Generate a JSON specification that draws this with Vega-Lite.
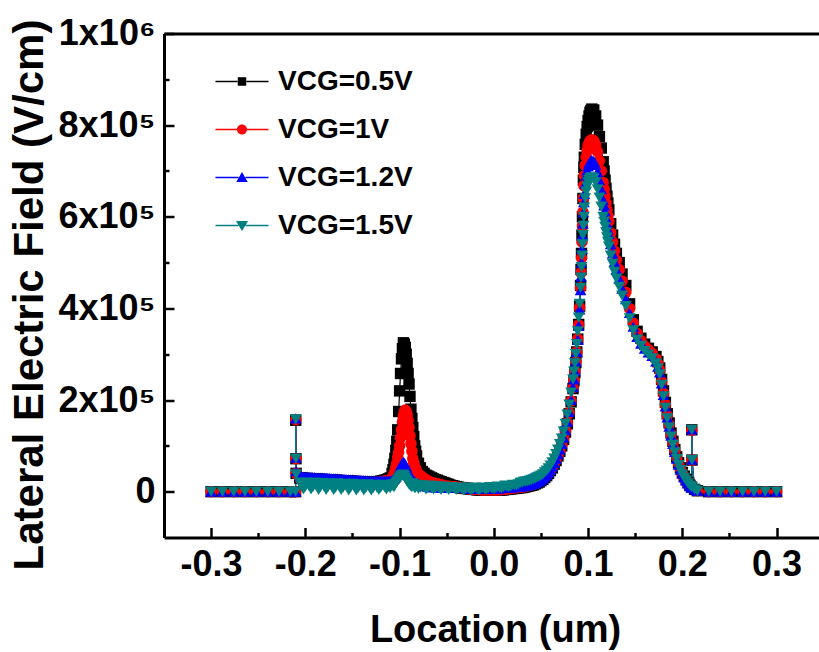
{
  "$schema": "https://vega.github.io/schema/vega-lite/v6.json",
  "width": 655,
  "height": 504,
  "autosize": "none",
  "padding": {"left": 164, "top": 33.5, "right": 0, "bottom": 114.5},
  "background": "white",
  "config": {
    "view": {"stroke": null},
    "font": "Liberation Sans",
    "axis": {"labelFont": "Liberation Sans", "titleFont": "Liberation Sans", "labelColor": "#000", "titleColor": "#000", "tickColor": "#000", "domainColor": "#000", "grid": false}
  },
  "data": {
    "values": [
      {"x": -0.300, "a": 0, "b": 0, "c": 0, "d": 0},
      {"x": -0.288, "a": 0, "b": 0, "c": 0, "d": 0},
      {"x": -0.276, "a": 0, "b": 0, "c": 0, "d": 0},
      {"x": -0.264, "a": 0, "b": 0, "c": 0, "d": 0},
      {"x": -0.252, "a": 0, "b": 0, "c": 0, "d": 0},
      {"x": -0.240, "a": 0, "b": 0, "c": 0, "d": 0},
      {"x": -0.228, "a": 0, "b": 0, "c": 0, "d": 0},
      {"x": -0.216, "a": 0, "b": 0, "c": 0, "d": 0},
      {"x": -0.2104, "a": 0, "b": 0, "c": 0, "d": 0},
      {"x": -0.2102, "a": 156000, "b": 157000, "c": 160000, "d": 158000},
      {"x": -0.2100, "a": 72000, "b": 72000, "c": 74000, "d": 72000},
      {"x": -0.2098, "a": 40000, "b": 40000, "c": 45000, "d": 38000},
      {"x": -0.206, "a": 30000, "b": 29000, "c": 34000, "d": 20000},
      {"x": -0.204, "a": 30000, "b": 29000, "c": 34000, "d": 12000},
      {"x": -0.202, "a": 29000, "b": 28000, "c": 33000, "d": 5000},
      {"x": -0.200, "a": 29000, "b": 28000, "c": 33000, "d": 11000},
      {"x": -0.198, "a": 29000, "b": 28000, "c": 33000, "d": 20000},
      {"x": -0.196, "a": 28000, "b": 27000, "c": 32000, "d": 12000},
      {"x": -0.194, "a": 28000, "b": 27000, "c": 32000, "d": 5000},
      {"x": -0.192, "a": 28000, "b": 27000, "c": 32000, "d": 10000},
      {"x": -0.190, "a": 28000, "b": 27000, "c": 32000, "d": 19000},
      {"x": -0.188, "a": 27000, "b": 26000, "c": 31000, "d": 12000},
      {"x": -0.186, "a": 27000, "b": 26000, "c": 31000, "d": 4000},
      {"x": -0.184, "a": 27000, "b": 26000, "c": 31000, "d": 10000},
      {"x": -0.182, "a": 27000, "b": 26000, "c": 31000, "d": 19000},
      {"x": -0.180, "a": 26000, "b": 25000, "c": 30000, "d": 11000},
      {"x": -0.178, "a": 26000, "b": 25000, "c": 30000, "d": 4000},
      {"x": -0.176, "a": 26000, "b": 25000, "c": 30000, "d": 10000},
      {"x": -0.174, "a": 26000, "b": 25000, "c": 30000, "d": 18000},
      {"x": -0.172, "a": 25000, "b": 24000, "c": 29000, "d": 11000},
      {"x": -0.170, "a": 25000, "b": 24000, "c": 29000, "d": 4000},
      {"x": -0.168, "a": 25000, "b": 24000, "c": 29000, "d": 9000},
      {"x": -0.166, "a": 25000, "b": 24000, "c": 29000, "d": 18000},
      {"x": -0.164, "a": 24000, "b": 23000, "c": 28000, "d": 11000},
      {"x": -0.162, "a": 24000, "b": 23000, "c": 28000, "d": 4000},
      {"x": -0.160, "a": 24000, "b": 23000, "c": 28000, "d": 9000},
      {"x": -0.158, "a": 24000, "b": 23000, "c": 28000, "d": 17000},
      {"x": -0.156, "a": 23000, "b": 22000, "c": 27000, "d": 10000},
      {"x": -0.154, "a": 23000, "b": 22000, "c": 27000, "d": 3000},
      {"x": -0.152, "a": 23000, "b": 22000, "c": 27000, "d": 9000},
      {"x": -0.150, "a": 23000, "b": 22000, "c": 27000, "d": 17000},
      {"x": -0.148, "a": 22000, "b": 21000, "c": 26000, "d": 10000},
      {"x": -0.146, "a": 22000, "b": 21000, "c": 26000, "d": 3000},
      {"x": -0.144, "a": 22000, "b": 21000, "c": 26000, "d": 8000},
      {"x": -0.142, "a": 22000, "b": 21000, "c": 26000, "d": 16000},
      {"x": -0.140, "a": 21000, "b": 20000, "c": 25000, "d": 10000},
      {"x": -0.138, "a": 21000, "b": 20000, "c": 25000, "d": 3000},
      {"x": -0.136, "a": 21000, "b": 20000, "c": 25000, "d": 8000},
      {"x": -0.134, "a": 21000, "b": 20000, "c": 25000, "d": 16000},
      {"x": -0.132, "a": 21000, "b": 20000, "c": 24000, "d": 9000},
      {"x": -0.130, "a": 21000, "b": 20000, "c": 24000, "d": 3000},
      {"x": -0.128, "a": 21000, "b": 20000, "c": 24000, "d": 8000},
      {"x": -0.126, "a": 21000, "b": 20000, "c": 24000, "d": 15000},
      {"x": -0.124, "a": 21000, "b": 20000, "c": 24000, "d": 9000},
      {"x": -0.122, "a": 22000, "b": 21000, "c": 24000, "d": 4000},
      {"x": -0.120, "a": 23000, "b": 21000, "c": 24000, "d": 9000},
      {"x": -0.118, "a": 24000, "b": 22000, "c": 24000, "d": 15000},
      {"x": -0.116, "a": 25000, "b": 23000, "c": 24000, "d": 10000},
      {"x": -0.114, "a": 26000, "b": 24000, "c": 24000, "d": 5000},
      {"x": -0.112, "a": 28000, "b": 25000, "c": 24000, "d": 11000},
      {"x": -0.110, "a": 30000, "b": 26000, "c": 24000, "d": 8000},
      {"x": -0.108, "a": 40000, "b": 30000, "c": 25000, "d": 16000},
      {"x": -0.107, "a": 48000, "b": 33000, "c": 26000, "d": 12000},
      {"x": -0.106, "a": 60000, "b": 38000, "c": 28000, "d": 10000},
      {"x": -0.105, "a": 73000, "b": 44000, "c": 30000, "d": 14000},
      {"x": -0.104, "a": 90000, "b": 52000, "c": 33000, "d": 18000},
      {"x": -0.103, "a": 110000, "b": 62000, "c": 36000, "d": 21000},
      {"x": -0.102, "a": 135000, "b": 75000, "c": 40000, "d": 24000},
      {"x": -0.101, "a": 175000, "b": 86000, "c": 45000, "d": 27000},
      {"x": -0.100, "a": 220000, "b": 100000, "c": 50000, "d": 30000},
      {"x": -0.099, "a": 258000, "b": 118000, "c": 55000, "d": 33000},
      {"x": -0.098, "a": 290000, "b": 135000, "c": 60000, "d": 35000},
      {"x": -0.097, "a": 312000, "b": 152000, "c": 63000, "d": 36000},
      {"x": -0.096, "a": 325000, "b": 165000, "c": 65000, "d": 37000},
      {"x": -0.095, "a": 322000, "b": 174000, "c": 63000, "d": 34000},
      {"x": -0.094, "a": 315000, "b": 178000, "c": 60000, "d": 30000},
      {"x": -0.093, "a": 300000, "b": 175000, "c": 54000, "d": 26000},
      {"x": -0.092, "a": 280000, "b": 168000, "c": 48000, "d": 22000},
      {"x": -0.091, "a": 258000, "b": 155000, "c": 43000, "d": 19000},
      {"x": -0.090, "a": 235000, "b": 140000, "c": 38000, "d": 16000},
      {"x": -0.089, "a": 208000, "b": 122000, "c": 34000, "d": 14000},
      {"x": -0.088, "a": 180000, "b": 105000, "c": 31000, "d": 12000},
      {"x": -0.087, "a": 160000, "b": 88000, "c": 28000, "d": 10000},
      {"x": -0.086, "a": 140000, "b": 72000, "c": 26000, "d": 18000},
      {"x": -0.085, "a": 120000, "b": 63000, "c": 24000, "d": 13000},
      {"x": -0.084, "a": 100000, "b": 55000, "c": 22000, "d": 8000},
      {"x": -0.083, "a": 88000, "b": 50000, "c": 20000, "d": 9000},
      {"x": -0.082, "a": 78000, "b": 45000, "c": 19000, "d": 15000},
      {"x": -0.080, "a": 62000, "b": 38000, "c": 17000, "d": 6000},
      {"x": -0.078, "a": 52000, "b": 35000, "c": 15000, "d": 9000},
      {"x": -0.076, "a": 44000, "b": 32000, "c": 14000, "d": 14000},
      {"x": -0.074, "a": 40000, "b": 29000, "c": 13000, "d": 9000},
      {"x": -0.072, "a": 36000, "b": 26000, "c": 12000, "d": 5000},
      {"x": -0.070, "a": 34000, "b": 24000, "c": 11000, "d": 8000},
      {"x": -0.068, "a": 32000, "b": 22000, "c": 11000, "d": 13000},
      {"x": -0.066, "a": 30000, "b": 20000, "c": 10000, "d": 8000},
      {"x": -0.064, "a": 28000, "b": 19000, "c": 10000, "d": 5000},
      {"x": -0.062, "a": 26000, "b": 18000, "c": 10000, "d": 8000},
      {"x": -0.060, "a": 25000, "b": 17000, "c": 10000, "d": 12000},
      {"x": -0.058, "a": 23000, "b": 16000, "c": 9000, "d": 7000},
      {"x": -0.056, "a": 22000, "b": 15000, "c": 9000, "d": 4000},
      {"x": -0.054, "a": 20000, "b": 14000, "c": 9000, "d": 7000},
      {"x": -0.052, "a": 19000, "b": 13000, "c": 9000, "d": 11000},
      {"x": -0.050, "a": 17000, "b": 12000, "c": 9000, "d": 7000},
      {"x": -0.048, "a": 16000, "b": 12000, "c": 9000, "d": 4000},
      {"x": -0.046, "a": 14000, "b": 11000, "c": 9000, "d": 7000},
      {"x": -0.044, "a": 13000, "b": 11000, "c": 9000, "d": 10000},
      {"x": -0.042, "a": 12000, "b": 10000, "c": 8000, "d": 7000},
      {"x": -0.040, "a": 11000, "b": 10000, "c": 8000, "d": 4000},
      {"x": -0.038, "a": 10000, "b": 9000, "c": 8000, "d": 6000},
      {"x": -0.036, "a": 9000, "b": 9000, "c": 8000, "d": 9000},
      {"x": -0.034, "a": 8000, "b": 8000, "c": 8000, "d": 6000},
      {"x": -0.032, "a": 8000, "b": 8000, "c": 8000, "d": 3000},
      {"x": -0.030, "a": 7000, "b": 7000, "c": 7000, "d": 6000},
      {"x": -0.028, "a": 7000, "b": 7000, "c": 7000, "d": 9000},
      {"x": -0.026, "a": 6000, "b": 6000, "c": 7000, "d": 6000},
      {"x": -0.024, "a": 6000, "b": 6000, "c": 7000, "d": 3000},
      {"x": -0.022, "a": 5000, "b": 5000, "c": 7000, "d": 6000},
      {"x": -0.020, "a": 5000, "b": 5000, "c": 7000, "d": 9000},
      {"x": -0.018, "a": 4000, "b": 5000, "c": 7000, "d": 6000},
      {"x": -0.016, "a": 4000, "b": 5000, "c": 7000, "d": 3000},
      {"x": -0.014, "a": 4000, "b": 4000, "c": 7000, "d": 6000},
      {"x": -0.012, "a": 3000, "b": 4000, "c": 7000, "d": 9000},
      {"x": -0.010, "a": 3000, "b": 4000, "c": 7000, "d": 6000},
      {"x": -0.008, "a": 3000, "b": 4000, "c": 7000, "d": 4000},
      {"x": -0.006, "a": 3000, "b": 4000, "c": 7000, "d": 7000},
      {"x": -0.004, "a": 3000, "b": 4000, "c": 7000, "d": 10000},
      {"x": -0.002, "a": 3000, "b": 4000, "c": 7000, "d": 7000},
      {"x": 0.000, "a": 3000, "b": 4000, "c": 7000, "d": 5000},
      {"x": 0.002, "a": 3000, "b": 4000, "c": 7000, "d": 8000},
      {"x": 0.004, "a": 3000, "b": 4000, "c": 7000, "d": 11000},
      {"x": 0.006, "a": 3000, "b": 4000, "c": 7000, "d": 9000},
      {"x": 0.008, "a": 4000, "b": 5000, "c": 8000, "d": 7000},
      {"x": 0.010, "a": 4000, "b": 5000, "c": 8000, "d": 10000},
      {"x": 0.012, "a": 5000, "b": 6000, "c": 8000, "d": 13000},
      {"x": 0.014, "a": 5000, "b": 6000, "c": 8000, "d": 11000},
      {"x": 0.016, "a": 6000, "b": 7000, "c": 9000, "d": 10000},
      {"x": 0.018, "a": 6000, "b": 7000, "c": 9000, "d": 12000},
      {"x": 0.020, "a": 7000, "b": 8000, "c": 10000, "d": 15000},
      {"x": 0.022, "a": 7000, "b": 8000, "c": 10000, "d": 14000},
      {"x": 0.024, "a": 8000, "b": 9000, "c": 11000, "d": 14000},
      {"x": 0.026, "a": 8000, "b": 9000, "c": 11000, "d": 16000},
      {"x": 0.028, "a": 9000, "b": 10000, "c": 11000, "d": 19000},
      {"x": 0.030, "a": 9000, "b": 10000, "c": 12000, "d": 20000},
      {"x": 0.032, "a": 10000, "b": 11000, "c": 12000, "d": 22000},
      {"x": 0.034, "a": 11000, "b": 12000, "c": 13000, "d": 22000},
      {"x": 0.036, "a": 12000, "b": 13000, "c": 14000, "d": 23000},
      {"x": 0.038, "a": 13000, "b": 14000, "c": 15000, "d": 24000},
      {"x": 0.040, "a": 14000, "b": 15000, "c": 16000, "d": 26000},
      {"x": 0.042, "a": 15000, "b": 16000, "c": 17000, "d": 27000},
      {"x": 0.044, "a": 17000, "b": 18000, "c": 19000, "d": 29000},
      {"x": 0.046, "a": 19000, "b": 20000, "c": 21000, "d": 31000},
      {"x": 0.048, "a": 21000, "b": 22000, "c": 23000, "d": 33000},
      {"x": 0.050, "a": 24000, "b": 25000, "c": 26000, "d": 35000},
      {"x": 0.052, "a": 27000, "b": 28000, "c": 29000, "d": 38000},
      {"x": 0.054, "a": 31000, "b": 32000, "c": 33000, "d": 42000},
      {"x": 0.056, "a": 35000, "b": 36000, "c": 37000, "d": 46000},
      {"x": 0.058, "a": 40000, "b": 41000, "c": 42000, "d": 51000},
      {"x": 0.060, "a": 46000, "b": 47000, "c": 48000, "d": 57000},
      {"x": 0.062, "a": 52000, "b": 54000, "c": 55000, "d": 64000},
      {"x": 0.064, "a": 60000, "b": 62000, "c": 63000, "d": 72000},
      {"x": 0.066, "a": 68000, "b": 70000, "c": 72000, "d": 82000},
      {"x": 0.068, "a": 78000, "b": 80000, "c": 82000, "d": 92000},
      {"x": 0.070, "a": 88000, "b": 90000, "c": 92000, "d": 104000},
      {"x": 0.072, "a": 100000, "b": 102000, "c": 104000, "d": 116000},
      {"x": 0.074, "a": 114000, "b": 116000, "c": 118000, "d": 131000},
      {"x": 0.076, "a": 130000, "b": 132000, "c": 134000, "d": 148000},
      {"x": 0.078, "a": 148000, "b": 150000, "c": 152000, "d": 168000},
      {"x": 0.080, "a": 170000, "b": 172000, "c": 174000, "d": 190000},
      {"x": 0.082, "a": 196000, "b": 198000, "c": 200000, "d": 216000},
      {"x": 0.084, "a": 225000, "b": 227000, "c": 228000, "d": 245000},
      {"x": 0.085, "a": 242000, "b": 244000, "c": 245000, "d": 262000},
      {"x": 0.086, "a": 260000, "b": 262000, "c": 263000, "d": 280000},
      {"x": 0.087, "a": 282000, "b": 283000, "c": 284000, "d": 300000},
      {"x": 0.088, "a": 305000, "b": 305000, "c": 305000, "d": 322000},
      {"x": 0.089, "a": 333000, "b": 333000, "c": 332000, "d": 350000},
      {"x": 0.090, "a": 365000, "b": 364000, "c": 362000, "d": 380000},
      {"x": 0.091, "a": 405000, "b": 402000, "c": 398000, "d": 410000},
      {"x": 0.092, "a": 450000, "b": 445000, "c": 440000, "d": 445000},
      {"x": 0.0925, "a": 485000, "b": 478000, "c": 470000, "d": 467000},
      {"x": 0.093, "a": 520000, "b": 510000, "c": 500000, "d": 490000},
      {"x": 0.0935, "a": 560000, "b": 545000, "c": 530000, "d": 515000},
      {"x": 0.094, "a": 600000, "b": 580000, "c": 560000, "d": 540000},
      {"x": 0.0945, "a": 640000, "b": 610000, "c": 585000, "d": 560000},
      {"x": 0.095, "a": 680000, "b": 640000, "c": 610000, "d": 580000},
      {"x": 0.0955, "a": 708000, "b": 668000, "c": 632000, "d": 600000},
      {"x": 0.096, "a": 730000, "b": 690000, "c": 650000, "d": 620000},
      {"x": 0.097, "a": 758000, "b": 712000, "c": 672000, "d": 640000},
      {"x": 0.098, "a": 780000, "b": 730000, "c": 690000, "d": 655000},
      {"x": 0.099, "a": 797000, "b": 744000, "c": 701000, "d": 666000},
      {"x": 0.100, "a": 810000, "b": 755000, "c": 710000, "d": 675000},
      {"x": 0.101, "a": 820000, "b": 761000, "c": 716000, "d": 680000},
      {"x": 0.102, "a": 828000, "b": 765000, "c": 720000, "d": 683000},
      {"x": 0.103, "a": 832000, "b": 767000, "c": 723000, "d": 685000},
      {"x": 0.104, "a": 835000, "b": 768000, "c": 724000, "d": 686000},
      {"x": 0.106, "a": 833000, "b": 766000, "c": 722000, "d": 684000},
      {"x": 0.108, "a": 820000, "b": 757000, "c": 713000, "d": 675000},
      {"x": 0.110, "a": 800000, "b": 742000, "c": 698000, "d": 660000},
      {"x": 0.112, "a": 775000, "b": 722000, "c": 680000, "d": 642000},
      {"x": 0.114, "a": 750000, "b": 700000, "c": 660000, "d": 622000},
      {"x": 0.116, "a": 720000, "b": 675000, "c": 637000, "d": 600000},
      {"x": 0.117, "a": 700000, "b": 660000, "c": 625000, "d": 589000},
      {"x": 0.118, "a": 680000, "b": 645000, "c": 612000, "d": 578000},
      {"x": 0.119, "a": 662000, "b": 630000, "c": 598000, "d": 566000},
      {"x": 0.120, "a": 645000, "b": 615000, "c": 585000, "d": 555000},
      {"x": 0.121, "a": 630000, "b": 602000, "c": 573000, "d": 545000},
      {"x": 0.122, "a": 615000, "b": 590000, "c": 562000, "d": 535000},
      {"x": 0.124, "a": 585000, "b": 565000, "c": 540000, "d": 515000},
      {"x": 0.126, "a": 560000, "b": 545000, "c": 520000, "d": 497000},
      {"x": 0.128, "a": 540000, "b": 525000, "c": 502000, "d": 480000},
      {"x": 0.130, "a": 520000, "b": 505000, "c": 485000, "d": 465000},
      {"x": 0.133, "a": 500000, "b": 485000, "c": 465000, "d": 447000},
      {"x": 0.136, "a": 475000, "b": 460000, "c": 443000, "d": 428000},
      {"x": 0.140, "a": 450000, "b": 435000, "c": 420000, "d": 405000},
      {"x": 0.144, "a": 410000, "b": 400000, "c": 390000, "d": 378000},
      {"x": 0.148, "a": 375000, "b": 368000, "c": 360000, "d": 352000},
      {"x": 0.152, "a": 350000, "b": 345000, "c": 338000, "d": 332000},
      {"x": 0.156, "a": 335000, "b": 330000, "c": 323000, "d": 318000},
      {"x": 0.160, "a": 322000, "b": 318000, "c": 312000, "d": 307000},
      {"x": 0.164, "a": 313000, "b": 310000, "c": 304000, "d": 299000},
      {"x": 0.168, "a": 305000, "b": 302000, "c": 296000, "d": 291000},
      {"x": 0.172, "a": 295000, "b": 290000, "c": 284000, "d": 280000},
      {"x": 0.174, "a": 284000, "b": 279000, "c": 273000, "d": 269000},
      {"x": 0.176, "a": 270000, "b": 265000, "c": 260000, "d": 256000},
      {"x": 0.178, "a": 245000, "b": 240000, "c": 236000, "d": 233000},
      {"x": 0.180, "a": 220000, "b": 215000, "c": 211000, "d": 208000},
      {"x": 0.182, "a": 195000, "b": 190000, "c": 186000, "d": 183000},
      {"x": 0.184, "a": 170000, "b": 166000, "c": 162000, "d": 160000},
      {"x": 0.186, "a": 150000, "b": 146000, "c": 142000, "d": 140000},
      {"x": 0.188, "a": 128000, "b": 125000, "c": 122000, "d": 120000},
      {"x": 0.190, "a": 110000, "b": 107000, "c": 104000, "d": 102000},
      {"x": 0.192, "a": 92000, "b": 90000, "c": 87000, "d": 86000},
      {"x": 0.194, "a": 76000, "b": 74000, "c": 72000, "d": 71000},
      {"x": 0.196, "a": 63000, "b": 61000, "c": 59000, "d": 58000},
      {"x": 0.198, "a": 52000, "b": 50000, "c": 48000, "d": 47000},
      {"x": 0.200, "a": 42000, "b": 40000, "c": 39000, "d": 38000},
      {"x": 0.202, "a": 34000, "b": 32000, "c": 31000, "d": 30000},
      {"x": 0.204, "a": 27000, "b": 25000, "c": 24000, "d": 24000},
      {"x": 0.206, "a": 20000, "b": 19000, "c": 18000, "d": 18000},
      {"x": 0.208, "a": 14000, "b": 13000, "c": 12000, "d": 13000},
      {"x": 0.2098, "a": 10000, "b": 10000, "c": 9000, "d": 10000},
      {"x": 0.2100, "a": 135000, "b": 134000, "c": 136000, "d": 135000},
      {"x": 0.2102, "a": 69000, "b": 69000, "c": 70000, "d": 69000},
      {"x": 0.213, "a": 5000, "b": 5000, "c": 5000, "d": 5000},
      {"x": 0.216, "a": 2000, "b": 2000, "c": 2000, "d": 2000},
      {"x": 0.228, "a": 0, "b": 0, "c": 0, "d": 0},
      {"x": 0.240, "a": 0, "b": 0, "c": 0, "d": 0},
      {"x": 0.252, "a": 0, "b": 0, "c": 0, "d": 0},
      {"x": 0.264, "a": 0, "b": 0, "c": 0, "d": 0},
      {"x": 0.276, "a": 0, "b": 0, "c": 0, "d": 0},
      {"x": 0.288, "a": 0, "b": 0, "c": 0, "d": 0},
      {"x": 0.300, "a": 0, "b": 0, "c": 0, "d": 0}
    ]
  },
  "transform": [{"fold": ["a", "b", "c", "d"], "as": ["s", "E"]}],
  "layer": [
    {
      "mark": {"type": "line", "strokeWidth": 1.2},
      "encoding": {
        "x": {
          "field": "x", "type": "quantitative",
          "scale": {"domain": [-0.35, 0.345], "nice": false, "zero": false},
          "axis": {
            "orient": "bottom",
            "values": [-0.3, -0.2, -0.1, 0, 0.1, 0.2, 0.3],
            "format": ".1f",
            "labelExpr": "replace(datum.label, '\u2212', '-')",
            "labelFontSize": 36, "labelFontWeight": "bold",
            "labelPadding": 20, "labelFlush": false, "labelOverlap": false,
            "tickSize": -10, "tickWidth": 2.5, "domainWidth": 3,
            "title": "Location (um)", "titleFontSize": 38, "titleFontWeight": "bold",
            "titleX": 331, "titleY": 104, "titleBaseline": "alphabetic"
          }
        },
        "y": {
          "field": "E", "type": "quantitative",
          "scale": {"domain": [-100000, 1000000], "nice": false, "zero": false},
          "axis": {
            "orient": "left",
            "values": [0, 200000, 400000, 600000, 800000, 1000000],
            "labelExpr": "datum.value == 0 ? '0' : datum.value == 1000000 ? '1x10\u2076' : (datum.value / 100000) + 'x10\u2075'",
            "labelFontSize": 36, "labelFontWeight": "bold",
            "labelPadding": 19, "labelOverlap": false, "labelFlush": false,
            "tickSize": -10, "tickWidth": 2.5, "domainWidth": 3,
            "title": "Lateral Electric Field (V/cm)", "titleFontSize": 42, "titleFontWeight": "bold",
            "titleX": -122, "titleY": 261, "titleAngle": -90, "titleBaseline": "alphabetic"
          }
        },
        "color": {
          "field": "s", "type": "nominal",
          "scale": {"domain": ["a", "b", "c", "d"], "range": ["#000000", "#ff0000", "#0000ff", "#008080"]},
          "legend": null
        }
      }
    },
    {
      "mark": {"type": "point", "filled": true, "opacity": 1, "strokeWidth": 0},
      "encoding": {
        "x": {
          "field": "x", "type": "quantitative",
          "axis": {
            "orient": "bottom",
            "values": [-0.25, -0.15, -0.05, 0.05, 0.15, 0.25],
            "labels": false, "domain": false, "title": null,
            "tickSize": -5, "tickWidth": 2.5
          }
        },
        "y": {
          "field": "E", "type": "quantitative",
          "axis": {
            "orient": "left",
            "values": [100000, 300000, 500000, 700000, 900000],
            "labels": false, "domain": false, "title": null,
            "tickSize": -5, "tickWidth": 2.5
          }
        },
        "color": {"field": "s", "type": "nominal", "legend": null},
        "shape": {
          "field": "s", "type": "nominal",
          "scale": {"domain": ["a", "b", "c", "d"], "range": ["square", "circle", "triangle-up", "triangle-down"]},
          "legend": null
        },
        "size": {
          "field": "s", "type": "nominal",
          "scale": {"domain": ["a", "b", "c", "d"], "range": [130, 140, 140, 180]},
          "legend": null
        },
        "order": {"field": "s", "type": "nominal", "sort": "ascending"}
      }
    },
    {
      "transform": [{"filter": "false"}],
      "mark": {"type": "point", "filled": true, "opacity": 1, "strokeWidth": 0},
      "encoding": {
        "x": {
          "field": "x", "type": "quantitative",
          "axis": {"orient": "top", "labels": false, "ticks": false, "domain": true, "domainWidth": 3, "title": null}
        },
        "y": {"field": "E", "type": "quantitative", "axis": null},
        "color": {
          "field": "s", "type": "nominal",
          "legend": {
            "orient": "none", "legendX": 64, "legendY": 34, "title": null,
            "symbolSize": 100, "symbolStrokeWidth": 0, "symbolOpacity": 1,
            "labelFontSize": 28, "labelFontWeight": "bold", "labelFont": "Liberation Sans", "labelColor": "#000",
            "labelOffset": 22, "rowPadding": 20, "padding": 0, "labelLimit": 400,
            "labelExpr": "datum.label == 'a' ? 'VCG=0.5V' : datum.label == 'b' ? 'VCG=1V' : datum.label == 'c' ? 'VCG=1.2V' : 'VCG=1.5V'"
          }
        },
        "shape": {
          "field": "s", "type": "nominal",
          "scale": {
            "domain": ["a", "b", "c", "d"],
            "range": [
              "M-5.3,-0.13H-0.9V0.13H-5.3Z M0.9,-0.13H5.3V0.13H0.9Z M-0.85,-0.85H0.85V0.85H-0.85Z",
              "M-5.3,-0.13H-0.95V0.13H-5.3Z M0.95,-0.13H5.3V0.13H0.95Z M-1,0A1,1,0,1,1,1,0A1,1,0,1,1,-1,0Z",
              "M-5.3,-0.13H-0.7V0.13H-5.3Z M0.7,-0.13H5.3V0.13H0.7Z M0,-1.1L1.15,0.9H-1.15Z",
              "M-5.3,-0.13H-0.7V0.13H-5.3Z M0.7,-0.13H5.3V0.13H0.7Z M-1.2,-0.9H1.2L0,1.1Z"
            ]
          },
          "legend": {
            "orient": "none", "legendX": 64, "legendY": 34, "title": null,
            "symbolSize": 100, "symbolStrokeWidth": 0, "symbolOpacity": 1,
            "labelFontSize": 28, "labelFontWeight": "bold", "labelFont": "Liberation Sans", "labelColor": "#000",
            "labelOffset": 22, "rowPadding": 20, "padding": 0, "labelLimit": 400,
            "labelExpr": "datum.label == 'a' ? 'VCG=0.5V' : datum.label == 'b' ? 'VCG=1V' : datum.label == 'c' ? 'VCG=1.2V' : 'VCG=1.5V'"
          }
        }
      }
    }
  ],
  "resolve": {
    "scale": {"shape": "independent"},
    "axis": {"x": "independent", "y": "independent"},
    "legend": {"color": "independent", "shape": "independent"}
  }
}
